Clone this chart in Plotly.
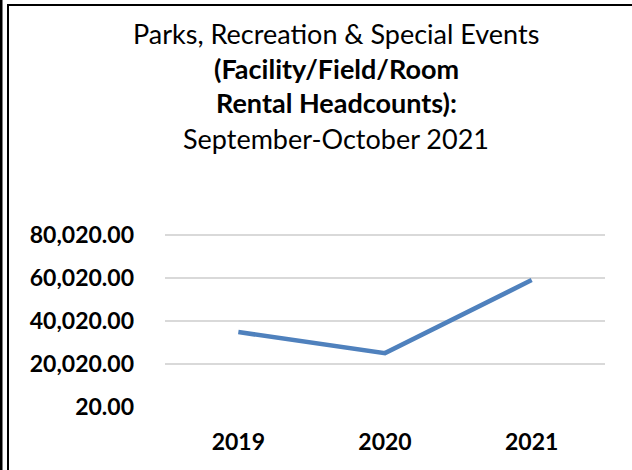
import plotly.graph_objects as go

years = ["2019", "2020", "2021"]
headcounts = [34900, 25100, 59100]
y_ticks = [20, 20020, 40020, 60020, 80020]
y_tick_labels = ["20.00", "20,020.00", "40,020.00", "60,020.00", "80,020.00"]
title_lines = [
    ("Parks, Recreation & Special Events", False),
    ("(Facility/Field/Room", True),
    ("Rental Headcounts):", True),
    ("September-October 2021", False),
]

W, H = 632, 470
L, R, T, B = 165, 27, 233, 63
PW, PH = W - L - R, H - T - B


def px(x):
    return (x - L) / PW


def py(y):
    return (H - B - y) / PH


FONT = "Lato, 'Open Sans', sans-serif"

fig = go.Figure()
fig.add_trace(go.Scatter(
    x=years, y=headcounts, mode="lines",
    line=dict(color="#4F81BD", width=4.5),
    hoverinfo="x+y",
))

annotations = []
title_y = [33, 68, 103, 138]
for (txt, bold), yy in zip(title_lines, title_y):
    annotations.append(dict(
        text=f"<b>{txt}</b>" if bold else txt,
        xref="paper", yref="paper", x=px(336), y=py(yy),
        xanchor="center", yanchor="middle", showarrow=False,
        font=dict(family=FONT, size=27, color="#000000"),
    ))

shapes = [
    dict(type="rect", xref="paper", yref="paper", x0=px(0), x1=px(2.5), y0=py(0), y1=py(470),
         fillcolor="#000000", line=dict(width=0), layer="above"),
    dict(type="rect", xref="paper", yref="paper", x0=px(7), x1=px(9), y0=py(4), y1=py(470),
         fillcolor="#000000", line=dict(width=0), layer="above"),
    dict(type="rect", xref="paper", yref="paper", x0=px(7), x1=px(632), y0=py(4), y1=py(6),
         fillcolor="#000000", line=dict(width=0), layer="above"),
]

fig.update_layout(
    width=W, height=H,
    margin=dict(l=L, r=R, t=T, b=B, pad=0),
    paper_bgcolor="#ffffff", plot_bgcolor="#ffffff",
    showlegend=False,
    annotations=annotations,
    shapes=shapes,
    font=dict(family=FONT, color="#000000"),
    xaxis=dict(
        type="category", range=[-0.5, 2.5], showgrid=False, zeroline=False,
        showline=False, ticks="", ticklabelstandoff=19,
        tickfont=dict(family=FONT, size=23, color="#000000", weight="bold"),
        fixedrange=True,
    ),
    yaxis=dict(
        range=[20, 81020], tickvals=y_ticks, ticktext=y_tick_labels,
        showgrid=True, gridcolor="#D9D9D9", gridwidth=1.5, zeroline=False,
        showline=False, ticks="", ticklabelstandoff=30,
        tickfont=dict(family=FONT, size=23, color="#000000", weight="bold"),
        fixedrange=True,
    ),
)

fig.write_html(
    "out.html",
    config={"displayModeBar": False},
    post_script="document.body.style.margin='0';",
)
